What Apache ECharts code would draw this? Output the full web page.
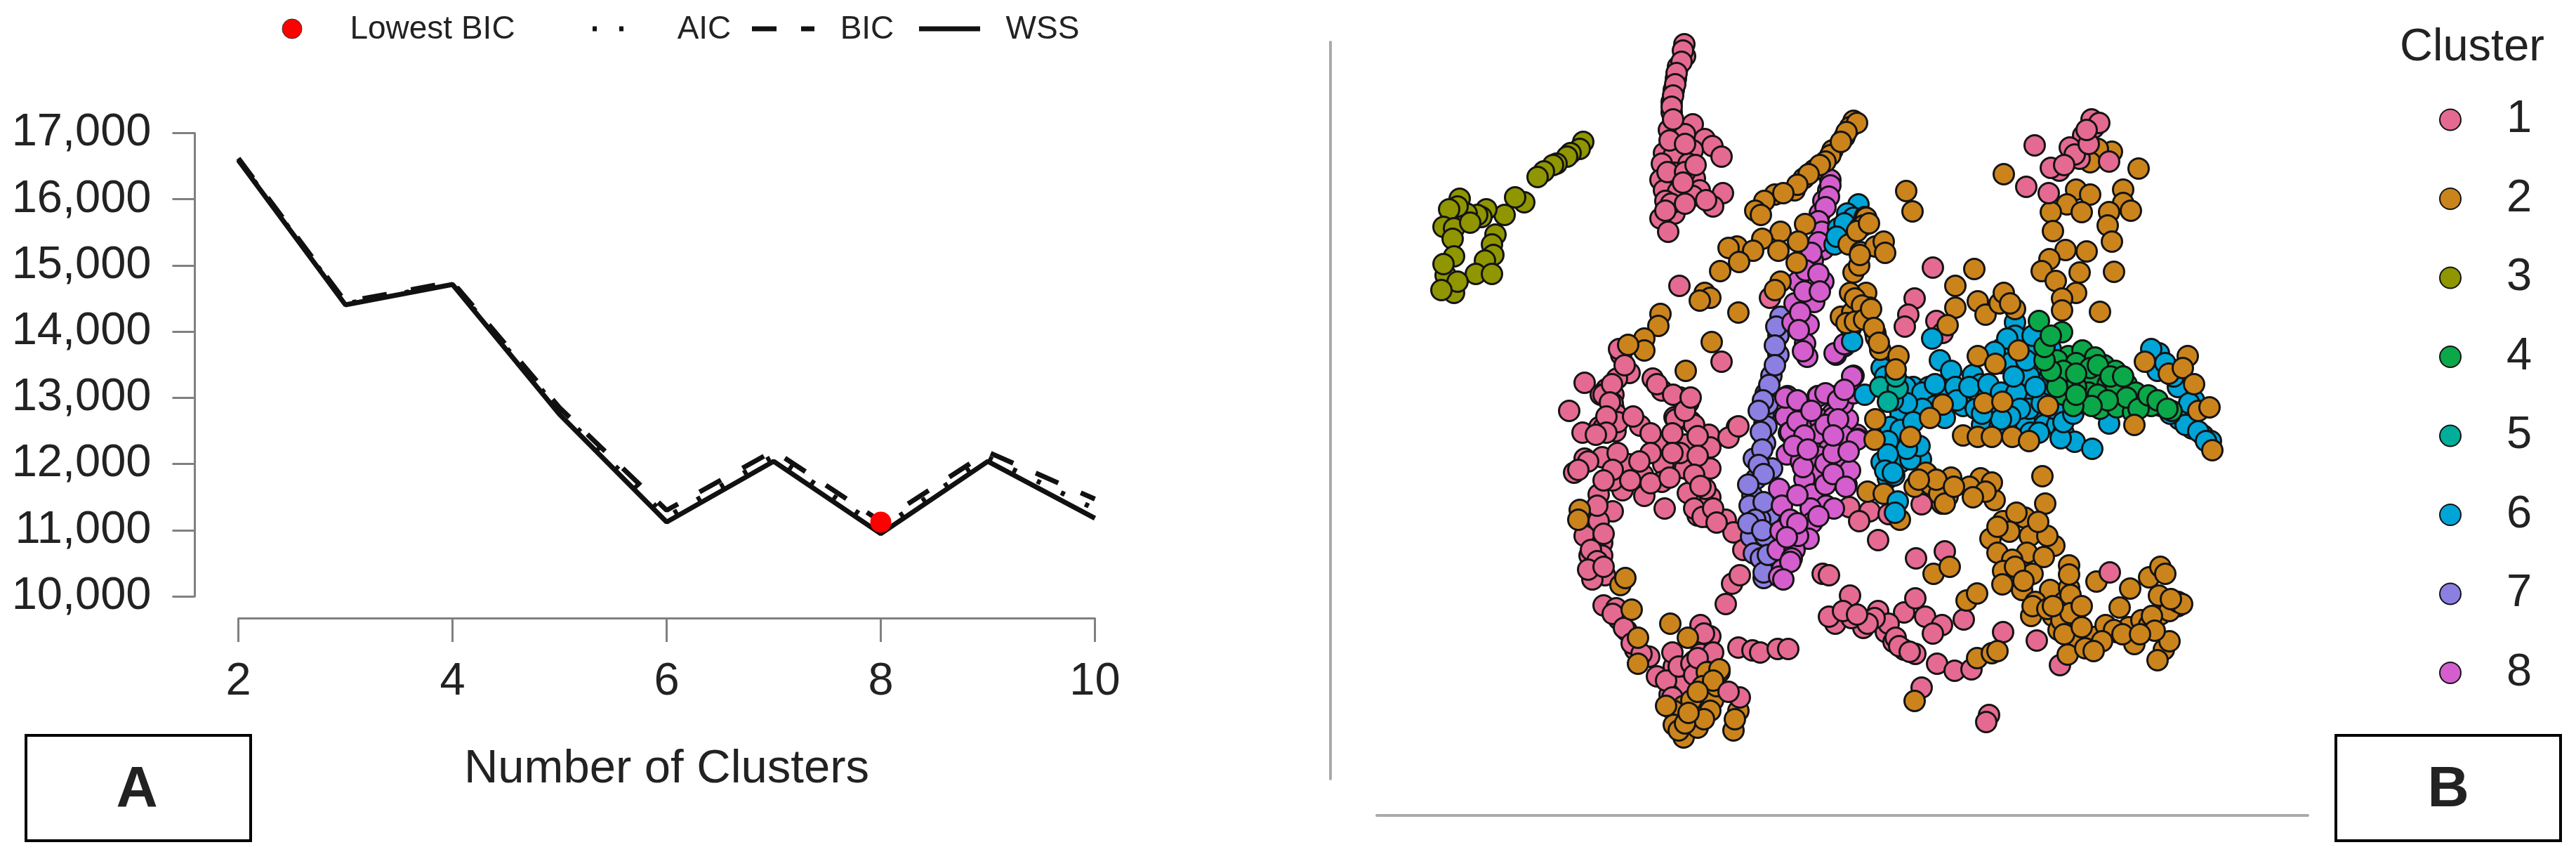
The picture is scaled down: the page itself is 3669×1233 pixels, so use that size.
<!doctype html>
<html>
<head>
<meta charset="utf-8">
<title>Cluster selection</title>
<script src="https://cdn.jsdelivr.net/npm/echarts@6/dist/echarts.min.js"></script>
<style>
	html, body { margin: 0; padding: 0; background: #fff; }
	#chart { width: 3669px; height: 1233px; }
</style>
</head>
<body>
<div id="chart"></div>
<script>
// panel A
var clusterCounts = [2, 3, 4, 5, 6, 7, 8, 9, 10];
var wssValues = [16590, 14405, 14712, 12750, 11122, 12040, 10945, 12040, 11180];
var bicValues = [16620, 14450, 14750, 12850, 11300, 12200, 11130, 12180, 11470];
var aicValues = [16600, 14420, 14725, 12800, 11200, 12120, 11030, 12100, 11320];
var lowestBic = [[8, 11120]];

// panel B, plot units
var cluster3 = [[355,958],[350,948],[337,942],[332,937],[317,927],[312,925],[299,916],[290,908],[271,872],[258,879],[243,854],[217,862],[210,851],[204,854],[189,856],[179,877],[176,866],[164,862],[156,837],[171,835],[194,843],[169,820],[230,826],[225,812],[227,797],[215,789],[202,770],[225,770],[171,795],[159,768],[156,784],[171,743],[176,759],[153,747]];
var cluster1 = [[499,1097],[500,1080],[490,1065],[487,1048],[484,1032],[481,1015],[481,1000],[511,983],[477,975],[500,969],[528,962],[539,952],[552,937],[470,942],[484,939],[511,946],[505,927],[467,927],[485,914],[514,906],[465,904],[470,889],[490,887],[521,889],[554,885],[540,866],[511,881],[472,874],[485,856],[465,849],[476,830],
	[497,1088],[495,1072],[488,1056],[486,1040],[483,1024],[481,1008],[483,990],[478,960],[500,955],[475,915],[500,915],[515,925],[497,900],[480,870],[500,870],[472,860],[530,875],
	[492,753],[621,736],[552,645],
	[409,655],[421,629],[403,621],[388,606],[398,598],[357,615],[335,575],[354,544],[380,598],[378,552],[398,579],[401,546],[436,554],[454,621],[467,604],[493,594],[505,587],[485,566],[508,560],[574,552],[534,541],
	[460,531],[487,563],[504,586],[500,527],[536,523],[536,493],[500,493],[469,499],[440,484],[420,499],[382,509],[357,507],[342,487],[411,462],[377,456],[442,454],[467,474],[397,476],[504,458],[536,452],[529,464],[471,436],[518,426],[533,424],[558,420],[569,402],[583,377],[562,537],[576,553],[397,432],[377,418],[357,397],[382,387],[364,369],[382,369],[371,353],[386,341],[368,335],[384,298],[402,294],[406,278],[417,262],[429,235],[449,225],[460,197],[484,211],[507,203],[493,183],[522,229],[536,254],[522,270],[482,231],[478,171],
	[384,598],[397,586],[402,570],[393,559],[384,551],[404,559],[426,567],[451,543],[482,543],[513,555],[518,539],[493,515],[518,511],[513,484],[482,515],[451,515],[435,503],[404,515],[397,491],[384,476],[362,503],[348,491],[422,476],[451,472],[478,480],[522,468],[513,436],[525,424],[540,436],[545,416],[375,440],[384,400],[366,377],[375,361],[362,349],[384,353],[397,286],[413,266],[424,244],[438,229],[473,191],[491,211],[513,219],[527,258],[509,215],[540,231],[482,167],[513,199],[518,223],
	[406,663],[414,640],[396,613],[393,587],[388,567],[388,544],[373,541],[460,613],[483,598],[500,575],[508,594],
	[576,238],[596,234],[607,231],[632,236],[647,236],[567,329],[578,341],[558,300],[696,343],[705,341],
	[735,312],[714,272],[705,282],[754,266],[737,280],[775,290],[812,288],[828,308],[842,282],[866,270],[853,258],[786,260],[797,246],[812,235],[828,229],[859,215],[884,205],[908,207],[897,278],[775,391],[829,365],[870,375],[837,181],[933,142],[929,132],[734,438],[763,432],[748,418],[837,442],[790,428],[953,260],[1001,248],[1034,213],
	[790,272],[800,252],[805,240],[820,232],[770,280],[760,272],[725,290],[745,285],
	[853,779],[827,735],[818,712],[813,695],[858,703],[867,686]];
var cluster2 = [[740,988],[735,979],[727,965],[710,946],[707,939],[684,918],[669,906],[656,889],[628,883],[613,874],[600,860],[608,854],[671,841],[636,830],[610,820],[661,816],[633,803],[659,786],[574,809],[562,807],[597,803],[577,787],[550,774],[528,743],[536,736],[521,732],[576,715],[636,759],[628,747],[465,713],[462,696],[442,678],[442,661],[419,669],[538,673],[501,632],
	[745,985],[730,972],[722,958],[700,930],[692,925],[676,912],[660,897],[640,885],
	[756,851],[748,835],[733,812],[750,801],[740,772],[748,782],[758,743],[735,743],[745,724],[722,709],[763,722],[738,715],[771,809],[771,686],
	[742,735],[752,725],[730,700],[742,702],[755,705],[778,662],[772,680],[758,850],[754,839],[745,831],[762,842],
	[815,888],[824,859],[783,816],[785,800],[749,797],[765,720],[769,693],[776,672],
	[954,912],[912,777],[885,753],[885,722],[874,697],[917,731],[928,712],[948,728],[954,743],[970,720],[963,728],
	[1146,920],[1108,944],[1088,948],[1077,929],[1057,890],[1077,883],[1044,869],[1021,858],[1065,858],[1024,831],[1124,890],[1124,871],[1135,860],[1104,858],[1102,839],[1108,816],[1042,804],[1072,802],[1019,791],[1008,774],[1028,760],[1062,772],[1111,773],[1057,743],[1037,735],[1037,718],[1091,716],
	[804,653],[800,634],[917,653],[942,642],[975,661],[867,584],[849,565],[771,563],[770,534],[821,538],[926,586],[952,588],
	[896,540],[917,538],[937,538],[966,538],[990,532],[1140,555],[1017,582],[1155,645],[1216,653],[1189,628],[1209,636],[1225,613],[1231,575],[1247,580],[1251,519],
	[845,485],[921,479],[905,467],[941,448],[843,487],[827,467],[850,470],[872,470],[866,443],[874,453],[760,460],[783,457],[806,420],[937,473],[928,460],[910,452],[1009,482],[1013,443],
	[862,457],[879,480],[858,477],[833,477],[870,443],[883,467],
	[953,418],[984,423],[972,430],[935,393],[991,397],[945,373],[987,373],[1026,383],[1011,367],[1016,397],[966,363],[953,347],[978,347],[952,328],[980,320],[1020,320],[1047,323],[1047,355],[1047,342],[999,303],[993,283],[1024,283],[1032,297],[1055,297],[1055,275],[1032,263],[1059,250],[1082,253],[1045,228],[1070,237],[1103,263],[1115,260],[1132,267],[1150,277],[1140,243],[1177,285],[1202,297],[1190,290],[1175,312],[1119,295],[1134,322],[1086,332],[1161,338],[1177,353],[1184,343],[1182,235],[1173,220],[1190,247],[916,223],[937,230],[945,233],[854,343],[877,353],[901,305],[916,315],[827,162],
	[995,297],[1016,293],[1040,303],[1049,313],[1036,277],[1049,287],[1065,297],[1040,257],[1065,267],[1099,270],[1111,263],[1094,247],[1082,233],[1123,257],[1161,270],[1165,283],[1202,303],[1208,300],[1192,307],[1169,262],[1148,257],[962,403],[945,410],[1003,417],[995,343],[970,353],[982,333],[1024,297],
	[350,434],[348,420],[408,327],[415,337],[424,292],[433,252],[433,215],[479,272],[504,252],[531,203],[549,203],[525,183],[498,155],[525,148],[484,148],[540,163],[513,132],[498,110],[484,128],[576,148],[569,120],[571,136],[545,183],[518,124],
	[473,155],[509,163],[536,148],[491,120],[527,136],[549,207],[540,191],[518,175],[500,130],[505,145]];
var cluster5 = [[778,609],[803,607],[789,588],[800,624]];
var cluster6 = [[747,869],[731,856],[718,835],[713,812],[736,693],[738,674],[970,701],[970,682],[950,663],[852,678],[863,647],[879,632],[780,636],[756,598],[825,609],[847,609],[874,605],[896,603],[910,626],[921,613],[827,580],[807,571],[792,552],[798,532],[780,502],[836,506],[807,502],[821,506],[834,525],[789,479],[896,582],[870,565],[937,567],[923,555],[948,552],[976,619],[950,643],[977,640],[1004,643],[990,663],[1012,613],[990,598],[968,586],[999,565],[986,555],[1012,555],[1030,555],[1039,544],[1055,531],[1080,521],[1046,575],[1021,598],[990,624],[1104,557],[1066,624],[1021,663],
	[785,624],[814,609],[838,601],[856,613],[885,609],[887,590],[856,582],[838,578],[816,586],[796,590],[905,609],[932,613],[914,578],[932,582],[950,601],[972,601],[990,578],[1008,586],[977,578],[963,567],[963,643],[986,647],[995,682],[959,678],[941,659],[968,624],[999,609],[1026,578],[992,544],[1004,544],[1035,536],[1039,559],[1053,571],[950,563],[923,571],[807,548],[825,559],[789,532],[816,521],[789,513],[798,483],[785,490],[740,850],[727,842],[716,823],
	[1204,563],[1222,550],[1238,540],[1249,532],[1175,657],[1202,609],[1225,590],[1164,663],[1173,632],[796,487],[1213,555],[1231,546],[1242,532],[1191,571],[1184,643],[1196,624],[1218,586]];
var cluster4 = [[1004,703],[1037,687],[1046,653],[1066,661],[1097,640],[1084,651],[1113,632],[1019,643],[1048,619],[1028,624],[1082,624],[1129,613],[1102,613],[1066,586],[1091,578],[1115,580],[1138,573],[1039,598],[1075,601],[1151,590],[1178,582],[1164,582],[1193,575],[1142,601],[1057,609],[1113,605],[1088,598],
	[1030,647],[1057,643],[1077,636],[1039,632],[1057,628],[1088,640],[1106,624],[1124,624],[1129,594],[1146,578],[1160,597],[1173,590],[1187,578],[1102,590],[1079,582],[1053,582],[1057,598],[1030,609],[1021,632],[1012,647],[1012,666],[1021,682]];
var cluster7 = [[636,709],[633,682],[633,655],[623,625],[615,600],[613,556],[618,598],[612,570],[616,553],[614,529],[598,507],[624,493],[601,478],[596,454],[621,428],[598,432],[596,408],[605,385],[616,353],[612,337],[594,396],[607,420],[614,397],
	[630,695],[628,668],[628,640],[620,612],[618,585],[611,590],[605,575],[608,545],[610,520],[605,498],[612,485],[590,470],[592,440],[612,445],[600,420],[590,415],[610,405],[598,372],[608,365],[612,345],[618,370]];
var cluster8 = [[707,904],[704,889],[697,874],[692,856],[707,896],[697,805],[682,789],[697,759],[661,759],[656,728],[684,730],[653,701],[676,698],[671,671],[674,652],[715,655],[727,667],[646,596],[689,596],[740,625],[715,596],[710,571],[684,564],[643,567],[648,544],[694,543],[745,541],
	[705,880],[700,865],[690,845],[695,830],[690,815],[680,800],[672,775],[690,770],[670,745],[664,715],[662,690],[668,660],[692,745],
	[643,594],[690,596],[717,592],[692,563],[650,545],[712,566],[732,563],[746,535],[712,515],[690,543],[645,513],[665,503],[690,487],[712,485],[730,470],[670,478],[634,464],[638,440],[681,456],[701,440],[679,436],[712,436],[681,416],[636,404],[676,393],[632,377],[656,377],[661,397],[638,349],[634,339],[652,365],
	[660,590],[700,600],[725,585],[660,560],[670,540],[705,520],[690,510],[725,510],[668,495],[700,470],[660,455],[650,420],[690,425],[660,415],[645,395],[650,360],[640,335],[700,500],[735,490],[725,540],[700,555],[740,600],[655,525],[675,520],[680,575],
	[738,624],[718,590],[745,534],[711,515],[711,485],[729,467],[727,605],[718,563],[711,540],[733,517],[713,657],[727,670]];
// these few sit on top of the orange ones in the picture
var cluster1Top = [[998,953],[986,894],[1018,885],[1033,917],[1021,921],[1062,934],[1104,930],[1067,967],[1082,978],[1048,950],[1079,990],[1055,940],[1040,925],[1075,955],[1090,985],[1072,975],[1105,345],[578,167],[562,175]];
var cluster6Top = [[803,446],[799,430]];

var clusterNames = ['1', '2', '3', '4', '5', '6', '7', '8'];
var clusterColors = ['#E56A92', '#CB841C', '#8F9600', '#0BA84A', '#00AE9A', '#00A5D8', '#8C7FE2', '#D55ECF'];

var fontName = '"Liberation Sans", Arial, sans-serif';

function clusterSeries(idx, points) {
	return {
		name: clusterNames[idx],
		type: 'scatter',
		xAxisIndex: 1,
		yAxisIndex: 1,
		symbolSize: 29,
		itemStyle: {
			color: clusterColors[idx],
			opacity: 1,
			borderColor: '#141414',
			borderWidth: 3
		},
		data: points
	};
}

function plainText(text, x, y, size, weight) {
	return {
		type: 'text',
		x: x,
		y: y,
		style: {
			text: text,
			font: (weight || 'normal') + ' ' + size + 'px ' + fontName,
			fill: '#222',
			align: 'center',
			verticalAlign: 'middle'
		}
	};
}

function sampleLine(x1, x2, y, dash) {
	return {
		type: 'line',
		shape: { x1: x1, y1: y, x2: x2, y2: y },
		style: { stroke: '#111', lineWidth: 7, lineDash: dash }
	};
}

function boxRect(x, y, w, h) {
	return {
		type: 'rect',
		shape: { x: x, y: y, width: w, height: h },
		style: { fill: 'none', stroke: '#000', lineWidth: 4 }
	};
}

var chart = echarts.init(document.getElementById('chart'));
chart.setOption({
	animation: false,
	backgroundColor: '#fff',
	legend: {
		orient: 'vertical',
		left: 3469,
		top: 133,
		itemWidth: 30,
		itemHeight: 30,
		itemGap: 47.5,
		selectedMode: false,
		icon: 'circle',
		data: clusterNames,
		textStyle: {
			fontFamily: fontName,
			fontSize: 65,
			color: '#222',
			padding: [0, 0, 0, 60]
		}
	},
	grid: [
		{ left: 339.5, top: 189.5, width: 1220, height: 659.5 },
		{ left: 1961, top: 60, width: 1326, height: 1049 }
	],
	xAxis: [{
		gridIndex: 0,
		type: 'value',
		min: 2,
		max: 10,
		interval: 2,
		offset: 31,
		name: 'Number of Clusters',
		nameLocation: 'middle',
		nameGap: 182,
		nameTextStyle: { fontFamily: fontName, fontSize: 67, color: '#222' },
		splitLine: { show: false },
		axisLine: { show: true, lineStyle: { color: '#808080', width: 3 } },
		axisTick: { show: true, length: 34, lineStyle: { color: '#808080', width: 3 } },
		axisLabel: { margin: 59, fontFamily: fontName, fontSize: 65, color: '#222' }
	}, {
		gridIndex: 1,
		type: 'value',
		min: 61,
		max: 1387,
		offset: 52,
		splitLine: { show: false },
		axisLine: { show: true, onZero: false, lineStyle: { color: '#aaa', width: 4 } },
		axisTick: { show: false },
		axisLabel: { show: false }
	}],
	yAxis: [{
		gridIndex: 0,
		type: 'value',
		min: 10000,
		max: 17000,
		interval: 1000,
		offset: 62,
		splitLine: { show: false },
		axisLine: { show: true, lineStyle: { color: '#808080', width: 3 } },
		axisTick: { show: true, length: 32, lineStyle: { color: '#808080', width: 3 } },
		axisLabel: { margin: 62, fontFamily: fontName, fontSize: 65, color: '#222' }
	}, {
		gridIndex: 1,
		type: 'value',
		min: 51,
		max: 1100,
		offset: 66,
		splitLine: { show: false },
		axisLine: { show: true, onZero: false, lineStyle: { color: '#aaa', width: 4 } },
		axisTick: { show: false },
		axisLabel: { show: false }
	}],
	graphic: [
		{ type: 'circle', shape: { cx: 416, cy: 41, r: 14 }, style: { fill: '#f00', stroke: '#333', lineWidth: 1 } },
		plainText('Lowest BIC', 616, 42, 46),
		sampleLine(844, 920, 41, [6, 32]),
		plainText('AIC', 1003, 42, 46),
		sampleLine(1071, 1160, 41, [35, 35]),
		plainText('BIC', 1235, 42, 46),
		sampleLine(1309, 1396, 41, null),
		plainText('WSS', 1485, 42, 46),
		boxRect(37, 1047, 320, 150),
		plainText('A', 195, 1125, 82, 'bold'),
		plainText('Cluster', 3521, 68, 65),
		boxRect(3327, 1047, 320, 150),
		plainText('B', 3487, 1125, 82, 'bold')
	],
	series: [{
		name: 'AIC',
		type: 'line',
		symbol: 'none',
		lineStyle: { color: '#111', width: 7, type: [6, 32] },
		data: clusterCounts.map(function(c, i) { return [c, aicValues[i]]; })
	}, {
		name: 'BIC',
		type: 'line',
		symbol: 'none',
		lineStyle: { color: '#111', width: 7, type: [35, 35] },
		data: clusterCounts.map(function(c, i) { return [c, bicValues[i]]; })
	}, {
		name: 'WSS',
		type: 'line',
		symbol: 'none',
		lineStyle: { color: '#111', width: 7 },
		data: clusterCounts.map(function(c, i) { return [c, wssValues[i]]; })
	}, {
		name: 'Lowest BIC',
		type: 'scatter',
		z: 10,
		symbolSize: 30,
		itemStyle: { color: '#f00', opacity: 1 },
		data: lowestBic
	},
		clusterSeries(0, cluster1),
		clusterSeries(2, cluster3),
		clusterSeries(6, cluster7),
		clusterSeries(7, cluster8),
		clusterSeries(5, cluster6),
		clusterSeries(4, cluster5),
		clusterSeries(3, cluster4),
		clusterSeries(1, cluster2),
		clusterSeries(0, cluster1Top),
		clusterSeries(5, cluster6Top)
	]
});
</script>
</body>
</html>
